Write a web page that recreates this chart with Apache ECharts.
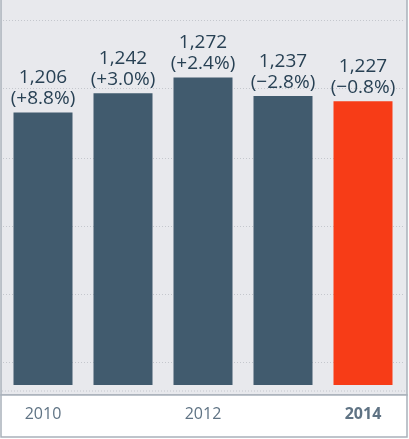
<!DOCTYPE html>
<html><head><meta charset="utf-8">
<script src="https://cdn.jsdelivr.net/npm/echarts@6/dist/echarts.min.js"></script>
<style>html,body{margin:0;padding:0;background:#fff}#c{width:409px;height:439px}</style>
</head><body><div id="c"></div>
<script>
const categories = ['2010','2011','2012','2013','2014'];
const values = [1206,1242,1272,1237,1227];
const changes = ['+8.8%','+3.0%','+2.4%','\u22122.8%','\u22120.8%'];
const gridValues = [1380,1252,1120,992,863,735];
const chart = echarts.init(document.getElementById('c'));
chart.setOption({
  animation:false,
  graphic:[
    {type:'rect',z:-10,shape:{x:1,y:-1,width:406,height:396},style:{fill:'#e8e9ed',stroke:'#a9b1ba',lineWidth:1.5}},
    {type:'rect',z:-10,shape:{x:1,y:395,width:406,height:42},style:{fill:'#fff',stroke:'#a9b1ba',lineWidth:1.5}},
    {type:'line',z:-5,shape:{x1:2,y1:391,x2:406,y2:391},style:{stroke:'#c4c7cd',lineWidth:1,lineDash:[1,2]}}
  ],
  grid:{left:3,right:6,top:0,bottom:54},
  xAxis:{type:'category',data:categories,axisLine:{show:false},axisTick:{show:false},
    axisLabel:{margin:21,fontSize:16,fontFamily:'Open Sans',color:'#5f7384',
      formatter:function(v){return v==='2014'?'{b|'+v+'}':v;},
      rich:{b:{fontWeight:'bold',fontSize:16,fontFamily:'Open Sans',color:'#5f7384'}}}},
  yAxis:{type:'value',min:692,max:1418,show:false,splitLine:{show:false}},
  series:[{type:'bar',barWidth:59,
    data:values.map((v,i)=>({value:v,itemStyle:{color:i===4?'#f73c17':'#415b6e'}})),
    label:{show:true,position:'top',distance:3,fontSize:19,lineHeight:21,fontFamily:'Open Sans',color:'#284154',
      formatter:p=>p.value.toLocaleString('en-US')+'\n('+changes[p.dataIndex]+')'},
    markLine:{silent:true,symbol:'none',label:{show:false},z:-1,
      lineStyle:{color:'#c4c7cd',type:[1,2],width:1},
      data:gridValues.map(g=>({yAxis:g}))}
  }]
});
</script></body></html>
